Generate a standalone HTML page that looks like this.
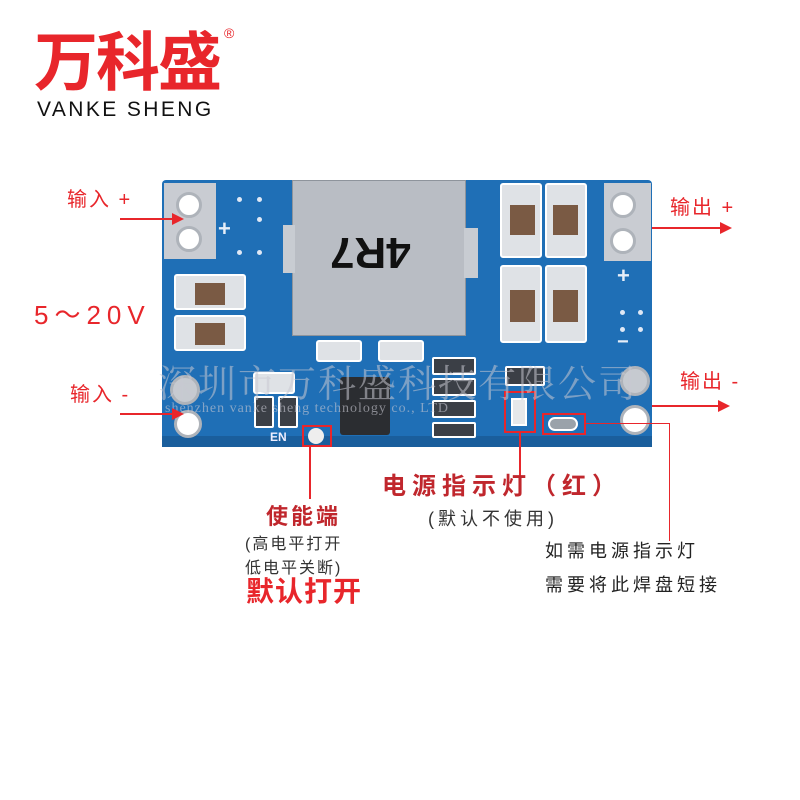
<!DOCTYPE html>
<html><head><meta charset="utf-8"><style>
body{margin:0;width:800px;height:800px;background:#fff;position:relative;overflow:hidden;font-family:"Liberation Sans","Noto Sans CJK SC",sans-serif}
div{position:absolute;box-sizing:border-box}
.t{white-space:nowrap;line-height:1}
.red{color:#e8262b}
.pad{background:#c9ccd2}
.hole{background:#fff;border-radius:50%;border:3px solid #aeb3ba}
.cap{background:#7a5a44}
.capv{border:2px solid #fff;background:#dfe2e6;border-radius:3px}
.dot{width:5px;height:5px;background:#dfe8f5;border-radius:50%}
.smd{border:2px solid #fff;background:#3b3f46;border-radius:2px}
.ln{background:#e8262b}
</style></head><body>
<!-- logo -->
<div class="t red" style="left:34px;top:26px;font-size:64px;font-weight:bold;letter-spacing:-2px;font-family:'Noto Sans CJK SC',sans-serif;">万科盛</div>
<div class="t red" style="left:224px;top:26px;font-size:14px">®</div>
<div class="t" style="left:37px;top:99px;font-size:21px;letter-spacing:2.4px;color:#111">VANKE SHENG</div>

<!-- board -->
<div style="left:162px;top:180px;width:490px;height:267px;background:#1f6fb6;border-radius:4px"></div>
<div style="left:162px;top:436px;width:490px;height:11px;background:#1a5e9c"></div>
<div class="pad" style="left:164px;top:183px;width:52px;height:76px"></div>
<div class="hole" style="left:176px;top:192px;width:26px;height:26px"></div>
<div class="hole" style="left:176px;top:226px;width:26px;height:26px"></div>
<div class="hole" style="left:170px;top:375px;width:30px;height:30px;background:#c6cad0"></div>
<div class="hole" style="left:174px;top:410px;width:28px;height:28px"></div>
<div class="t" style="left:218px;top:218px;font-size:22px;color:#e6eef8;font-weight:bold">+</div>
<div style="left:292px;top:180px;width:174px;height:156px;background:#b9bdc4;border:1px solid #8e949c"></div>
<div style="left:283px;top:225px;width:12px;height:48px;background:#c8ccd2"></div>
<div style="left:464px;top:228px;width:14px;height:50px;background:#c8ccd2"></div>
<div class="t" style="left:330px;top:230px;font-size:44px;font-weight:bold;color:#111;transform:rotate(180deg)">4R7</div>
<div class="capv" style="left:174px;top:274px;width:72px;height:36px"></div>
<div class="cap" style="left:195px;top:283px;width:30px;height:22px"></div>
<div class="capv" style="left:174px;top:315px;width:72px;height:36px"></div>
<div class="cap" style="left:195px;top:323px;width:30px;height:22px"></div>
<div class="capv" style="left:500px;top:183px;width:42px;height:75px"></div>
<div class="cap" style="left:510px;top:205px;width:25px;height:30px"></div>
<div class="capv" style="left:545px;top:183px;width:42px;height:75px"></div>
<div class="cap" style="left:553px;top:205px;width:25px;height:30px"></div>
<div class="capv" style="left:500px;top:265px;width:42px;height:78px"></div>
<div class="cap" style="left:510px;top:290px;width:25px;height:32px"></div>
<div class="capv" style="left:545px;top:265px;width:42px;height:78px"></div>
<div class="cap" style="left:553px;top:290px;width:25px;height:32px"></div>
<div class="pad" style="left:604px;top:183px;width:47px;height:78px"></div>
<div class="hole" style="left:610px;top:192px;width:26px;height:26px"></div>
<div class="hole" style="left:610px;top:228px;width:26px;height:26px"></div>
<div class="t" style="left:617px;top:265px;font-size:22px;color:#e6eef8;font-weight:bold">+</div>
<div class="t" style="left:617px;top:332px;font-size:20px;color:#e6eef8;font-weight:bold">−</div>
<div class="hole" style="left:620px;top:366px;width:30px;height:30px;background:#c6cad0"></div>
<div class="hole" style="left:620px;top:405px;width:30px;height:30px"></div>
<div class="capv" style="left:316px;top:340px;width:46px;height:22px"></div>
<div class="capv" style="left:378px;top:340px;width:46px;height:22px"></div>
<div class="capv" style="left:253px;top:372px;width:42px;height:22px"></div>
<div class="smd" style="left:254px;top:396px;width:20px;height:32px"></div>
<div class="smd" style="left:278px;top:396px;width:20px;height:32px"></div>
<div style="left:340px;top:377px;width:50px;height:58px;background:#2b2d31;border-radius:3px"></div>
<div class="smd" style="left:432px;top:357px;width:44px;height:18px"></div>
<div class="smd" style="left:432px;top:378px;width:44px;height:18px"></div>
<div class="smd" style="left:432px;top:400px;width:44px;height:18px"></div>
<div class="smd" style="left:432px;top:422px;width:44px;height:16px"></div>
<div class="smd" style="left:505px;top:366px;width:40px;height:20px"></div>
<div style="left:504px;top:391px;width:32px;height:42px;border:2px solid #e8262b"></div>
<div style="left:511px;top:398px;width:16px;height:28px;background:#e6e8ea;border:2px solid #fff"></div>
<div style="left:542px;top:413px;width:44px;height:22px;border:2px solid #e8262b"></div>
<div style="left:548px;top:417px;width:30px;height:14px;background:#9aa2aa;border:2px solid #fff;border-radius:7px"></div>
<div style="left:302px;top:425px;width:30px;height:22px;border:2px solid #e8262b"></div>
<div style="left:308px;top:428px;width:16px;height:16px;background:#eee;border-radius:50%"></div>
<div class="t" style="left:270px;top:431px;font-size:12px;color:#eef;font-weight:bold">EN</div>
<div class="dot" style="left:237px;top:197px"></div><div class="dot" style="left:257px;top:197px"></div>
<div class="dot" style="left:257px;top:217px"></div><div class="dot" style="left:237px;top:250px"></div><div class="dot" style="left:257px;top:250px"></div>
<div class="dot" style="left:620px;top:310px"></div><div class="dot" style="left:638px;top:310px"></div>
<div class="dot" style="left:620px;top:327px"></div><div class="dot" style="left:638px;top:327px"></div>
<div class="t" style="left:158px;top:362px;font-size:38px;color:rgba(200,200,210,.55);letter-spacing:2px;font-family:'Noto Serif CJK SC',serif">深圳市万科盛科技有限公司</div>
<div class="t" style="left:165px;top:402px;font-size:14px;color:rgba(200,200,210,.6);letter-spacing:1px;font-family:'Liberation Serif',serif">shenzhen vanke sheng technology co., LTD</div>

<div class="t red" style="left:67px;top:190px;font-size:20px;letter-spacing:2px">输入 +</div>
<div class="ln" style="left:120px;top:218px;width:58px;height:2px"></div>
<div style="left:172px;top:213px;border-left:12px solid #e8262b;border-top:6px solid transparent;border-bottom:6px solid transparent;width:0;height:0"></div>
<div class="t red" style="left:34px;top:302px;font-size:26px;letter-spacing:6px">5～20V</div>
<div class="t red" style="left:70px;top:385px;font-size:20px;letter-spacing:2px">输入 -</div>
<div class="ln" style="left:120px;top:413px;width:58px;height:2px"></div>
<div style="left:172px;top:408px;border-left:12px solid #e8262b;border-top:6px solid transparent;border-bottom:6px solid transparent;width:0;height:0"></div>
<div class="t red" style="left:670px;top:198px;font-size:20px;letter-spacing:2px">输出 +</div>
<div class="ln" style="left:652px;top:227px;width:70px;height:2px"></div>
<div style="left:720px;top:222px;border-left:12px solid #e8262b;border-top:6px solid transparent;border-bottom:6px solid transparent;width:0;height:0"></div>
<div class="t red" style="left:680px;top:372px;font-size:20px;letter-spacing:2px">输出 -</div>
<div class="ln" style="left:652px;top:405px;width:70px;height:2px"></div>
<div style="left:718px;top:400px;border-left:12px solid #e8262b;border-top:6px solid transparent;border-bottom:6px solid transparent;width:0;height:0"></div>
<div class="ln" style="left:309px;top:447px;width:2px;height:52px"></div>
<div class="ln" style="left:519px;top:433px;width:2px;height:48px"></div>
<div class="ln" style="left:586px;top:423px;width:84px;height:1px"></div>
<div class="ln" style="left:669px;top:423px;width:1px;height:118px"></div>
<div class="t" style="left:266px;top:506px;font-size:22px;color:#c0272d;letter-spacing:3px;font-weight:bold">使能端</div>
<div class="t" style="left:245px;top:537px;font-size:16px;color:#333;letter-spacing:2px">(高电平打开</div>
<div class="t" style="left:245px;top:561px;font-size:16px;color:#333;letter-spacing:2px">低电平关断)</div>
<div class="t red" style="left:246px;top:578px;font-size:28px;font-weight:bold;letter-spacing:1px">默认打开</div>
<div class="t" style="left:382px;top:475px;font-size:24px;color:#c0272d;letter-spacing:6px;font-weight:bold">电源指示灯（红）</div>
<div class="t" style="left:428px;top:510px;font-size:18px;color:#333;letter-spacing:4px">(默认不使用)</div>
<div class="t" style="left:545px;top:542px;font-size:18px;color:#222;letter-spacing:4px">如需电源指示灯</div>
<div class="t" style="left:545px;top:576px;font-size:18px;color:#222;letter-spacing:4px">需要将此焊盘短接</div>
</body></html>
